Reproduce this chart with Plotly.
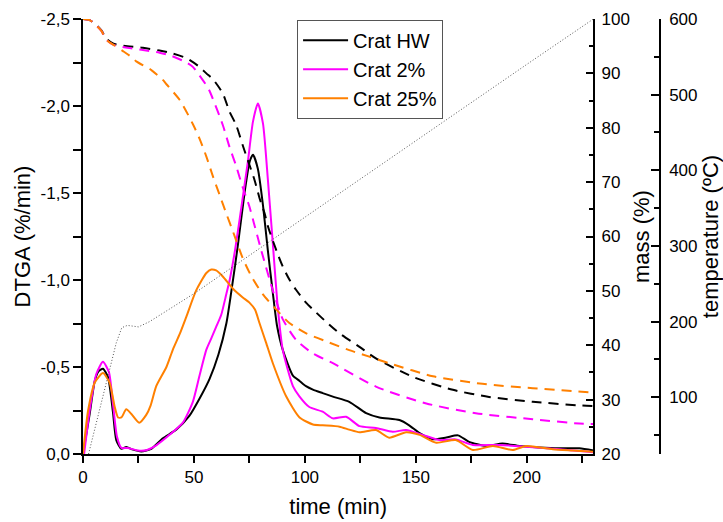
import plotly.graph_objects as go

FONT = "Liberation Sans, Arial, sans-serif"

# ---------------- DTGA (%/min) ----------------
time_hw = [0, 3, 5.3, 7, 9, 11.3, 13.5, 15, 17.3, 19.5, 22.5, 26.3, 30.8, 36, 42, 48, 52.6, 57, 61,
           64.6, 66.8, 69.8, 72.8, 75.1, 76.6, 78.8, 81.1, 83.3, 85.6, 87.4, 90, 94.6, 97.6, 100.5,
           103.6, 108, 112.6, 120, 127.6, 133.6, 142.6, 147, 151.7, 157.7, 163.7, 169, 174, 181.7,
           189, 196.7, 205.7, 214.7, 223.7, 230]
dtga_hw = [0, -0.23, -0.42, -0.475, -0.49, -0.44, -0.24, -0.08, -0.03, -0.04, -0.025, -0.015, -0.03,
           -0.09, -0.14, -0.22, -0.32, -0.43, -0.57, -0.75, -0.93, -1.2, -1.5, -1.68, -1.72, -1.64,
           -1.43, -1.17, -0.92, -0.74, -0.6, -0.45, -0.42, -0.39, -0.37, -0.35, -0.33, -0.3, -0.235,
           -0.21, -0.195, -0.165, -0.12, -0.085, -0.095, -0.107, -0.07, -0.046, -0.06, -0.046,
           -0.038, -0.033, -0.033, -0.02]

time_2 = [0.5, 3, 6, 9, 11.7, 13.5, 15.3, 17.3, 20, 24.8, 28.5, 33, 39, 45, 49.5, 52.5, 55.6, 58, 60,
          62.3, 64.6, 66.1, 68.5, 70.6, 72.5, 74.3, 76.6, 78.8, 81.1, 83.3, 85.6, 87.8, 90, 94.6,
          97.6, 102, 108, 112.6, 118.6, 124.6, 132, 139.6, 145.6, 153, 160.7, 168, 175.7, 187.7,
          199.7, 214.7, 228, 230]
dtga_2 = [0, -0.25, -0.46, -0.53, -0.47, -0.29, -0.1, -0.035, -0.035, -0.02, -0.022, -0.05, -0.11,
          -0.18, -0.3, -0.45, -0.6, -0.67, -0.73, -0.8, -0.92, -1.0, -1.17, -1.35, -1.52, -1.68,
          -1.91, -2.015, -1.9, -1.58, -1.2, -0.84, -0.6, -0.39, -0.33, -0.27, -0.243, -0.205,
          -0.214, -0.16, -0.15, -0.128, -0.138, -0.11, -0.08, -0.084, -0.052, -0.052, -0.042,
          -0.027, -0.013, -0.01]

time_25 = [0, 2.3, 5.3, 9, 12, 14.3, 15.8, 17.3, 19.5, 21.8, 25.3, 28.5, 30.5, 33, 37.6, 40.5, 43.6,
           46.6, 51, 55.6, 57.8, 60, 63, 67.6, 72, 75, 77.5, 79.6, 82.5, 85.6, 91.6, 97.6, 103.6,
           108, 115.6, 120, 124.6, 132, 138, 145.6, 151.7, 159.2, 168, 175.7, 184.7, 193.7, 199.7,
           211.7, 220.7, 230]
dtga_25 = [0, -0.25, -0.41, -0.465, -0.41, -0.27, -0.21, -0.21, -0.257, -0.23, -0.18, -0.225, -0.28,
           -0.39, -0.5, -0.6, -0.69, -0.79, -0.94, -1.04, -1.06, -1.055, -1.02, -0.95, -0.9, -0.87,
           -0.83, -0.75, -0.64, -0.52, -0.33, -0.21, -0.17, -0.165, -0.157, -0.14, -0.125, -0.138,
           -0.094, -0.125, -0.11, -0.065, -0.08, -0.023, -0.046, -0.023, -0.046, -0.027, -0.02,
           -0.013]

# ---------------- mass (%) ----------------
tm_hw = [0, 3, 6, 8.3, 10.5, 13.5, 20, 27, 34.5, 40, 46.6, 51.8, 55.6, 58.6, 63, 66, 69, 72.2, 74.3,
         77.3, 79.6, 81.8, 83.4, 87.8, 90, 93, 96, 100.6, 103.6, 109.6, 115.6, 124.6, 132, 148.6,
         166.7, 183, 202.7, 225, 230]
mass_hw = [100, 99.8, 98.9, 97.9, 96.4, 95.5, 95.0, 94.7, 94.2, 93.7, 92.8, 91.4, 90.0, 88.9, 86.3,
           83.0, 80.5, 76.5, 74.0, 70.4, 67.0, 64.3, 61.8, 56.7, 54.5, 52.1, 50.2, 47.8, 46.6, 44.3,
           42.2, 39.7, 37.6, 34.2, 31.8, 30.5, 29.6, 28.9, 28.8]

tm_2 = [0, 3, 6, 8.3, 10.5, 13.5, 20, 27, 34.5, 40, 46.6, 49.5, 55.6, 57, 63, 66, 69, 72, 75, 77,
        80.3, 85.6, 88.6, 90, 96, 103.6, 112.6, 132, 154.7, 177, 202.7, 223.7, 230]
mass_2 = [100, 99.8, 98.8, 97.8, 96.2, 95.3, 94.7, 94.3, 93.8, 93.2, 92.0, 91.2, 87.8, 86.8, 80.5,
          76.5, 73.0, 69.0, 65.5, 62.5, 57.5, 50.0, 46.3, 44.8, 41.0, 38.5, 36.7, 32.4, 29.3, 27.5,
          26.4, 25.6, 25.5]

tm_25 = [0, 3, 6, 8.3, 10.5, 14.3, 18, 22.5, 24, 30.8, 36, 37.6, 43.6, 49.6, 52.6, 55.6, 58.6, 61.6,
         64.6, 67.6, 72, 76, 81, 88.6, 93, 100.6, 111, 120, 129, 138, 157.7, 180, 202.7, 230]
mass_25 = [100, 99.8, 98.8, 97.8, 96.2, 95.1, 94.1, 92.8, 92.2, 90.6, 88.8, 88.0, 85.1, 80.6, 77.9,
           74.7, 71.0, 67.6, 64.2, 60.9, 56.0, 52.6, 49.4, 45.9, 44.1, 42.2, 40.5, 39.1, 37.9, 36.7,
           34.3, 32.9, 32.1, 31.3]

# ---------------- temperature (ºC) ----------------
t_temp = [2.5, 5, 10, 15, 17.5, 20, 25, 30, 50, 100, 150, 200, 230]
temp = [25, 55, 112, 172, 192, 195, 193, 200, 237, 338, 440, 540, 600]

# ---------------- ticks / labels ----------------
x_ticks = [0, 50, 100, 150, 200]
dtga_ticks = [0, -0.5, -1.0, -1.5, -2.0, -2.5]
dtga_labels = ["0,0", "-0,5", "-1,0", "-1,5", "-2,0", "-2,5"]
mass_ticks = [20, 30, 40, 50, 60, 70, 80, 90, 100]
temp_ticks = [100, 200, 300, 400, 500, 600]

names = ["Crat HW", "Crat 2%", "Crat 25%"]
colors = ["#000000", "#FF00FF", "#FF8000"]

fig = go.Figure()

fig.add_trace(go.Scatter(x=t_temp, y=temp, yaxis="y3", mode="lines", showlegend=False,
                         line=dict(color="#555555", width=1, dash="1px,2px"), hoverinfo="skip"))

for tx, my, c in zip([tm_hw, tm_2, tm_25], [mass_hw, mass_2, mass_25], colors):
    fig.add_trace(go.Scatter(x=tx, y=my, yaxis="y2", mode="lines", showlegend=False,
                             line=dict(color=c, width=2, dash="10px,7px", shape="spline", smoothing=0.7)))

for tx, dy, c, n in zip([time_hw, time_2, time_25], [dtga_hw, dtga_2, dtga_25], colors, names):
    fig.add_trace(go.Scatter(x=tx, y=dy, yaxis="y", mode="lines", name=n,
                             line=dict(color=c, width=2, shape="spline", smoothing=0.6)))

tickfont = dict(family=FONT, size=17, color="black")
titlefont = dict(family=FONT, size=22, color="black")

fig.update_layout(
    width=723, height=522,
    margin=dict(l=83, r=63, t=19, b=68, autoexpand=False),
    paper_bgcolor="white", plot_bgcolor="white",
    font=dict(family=FONT, color="black"),
    xaxis=dict(domain=[0, 0.8845], range=[0, 230], tickvals=x_ticks, ticks="outside", ticklen=7,
               tickwidth=1.5, tickcolor="black", showline=True, linecolor="black", linewidth=1.5,
               showgrid=False, zeroline=False, tickfont=tickfont, automargin=False,
               minor=dict(dtick=25, tick0=0, ticks="outside", ticklen=7, tickwidth=1.5, tickcolor="black"),
               title=dict(text="time (min)", font=titlefont, standoff=12)),
    yaxis=dict(range=[0, -2.5], tickvals=dtga_ticks, ticktext=dtga_labels, ticks="outside", ticklen=8,
               tickwidth=1.5, tickcolor="black", showline=True, linecolor="black", linewidth=1.5,
               showgrid=False, zeroline=False, tickfont=tickfont, automargin=False,
               minor=dict(dtick=0.25, tick0=0, ticks="outside", ticklen=8, tickwidth=1.5, tickcolor="black"),
               title=dict(text="DTGA (%/min)", font=titlefont, standoff=4)),
    yaxis2=dict(overlaying="y", side="right", anchor="x", range=[20, 100], tickvals=mass_ticks,
                ticks="inside", ticklen=8, tickwidth=1.5, tickcolor="black", showline=True,
                linecolor="black", linewidth=1.5, showgrid=False, zeroline=False, tickfont=tickfont,
                ticklabelstandoff=3, automargin=False,
                minor=dict(dtick=5, tick0=0, ticks="inside", ticklen=5, tickwidth=1.5, tickcolor="black"),
                title=dict(text="mass (%)", font=titlefont, standoff=5)),
    yaxis3=dict(overlaying="y", side="right", anchor="free", position=1.0, range=[25, 600],
                tickvals=temp_ticks, ticks="inside", ticklen=8, tickwidth=1.5, tickcolor="black",
                showline=True, linecolor="black", linewidth=1.5, showgrid=False, zeroline=False,
                tickfont=tickfont, ticklabelstandoff=5, automargin=False,
                minor=dict(dtick=50, tick0=0, ticks="inside", ticklen=5, tickwidth=1.5, tickcolor="black"),
                title=dict(text="temperature (ºC)", font=titlefont, standoff=12)),
    legend=dict(x=0.371, y=0.998, xanchor="left", yanchor="top", bgcolor="white",
                bordercolor="#555555", borderwidth=1, font=dict(family=FONT, size=20, color="black"),
                itemwidth=45, tracegroupgap=0),
)

fig.write_html("out.html")
